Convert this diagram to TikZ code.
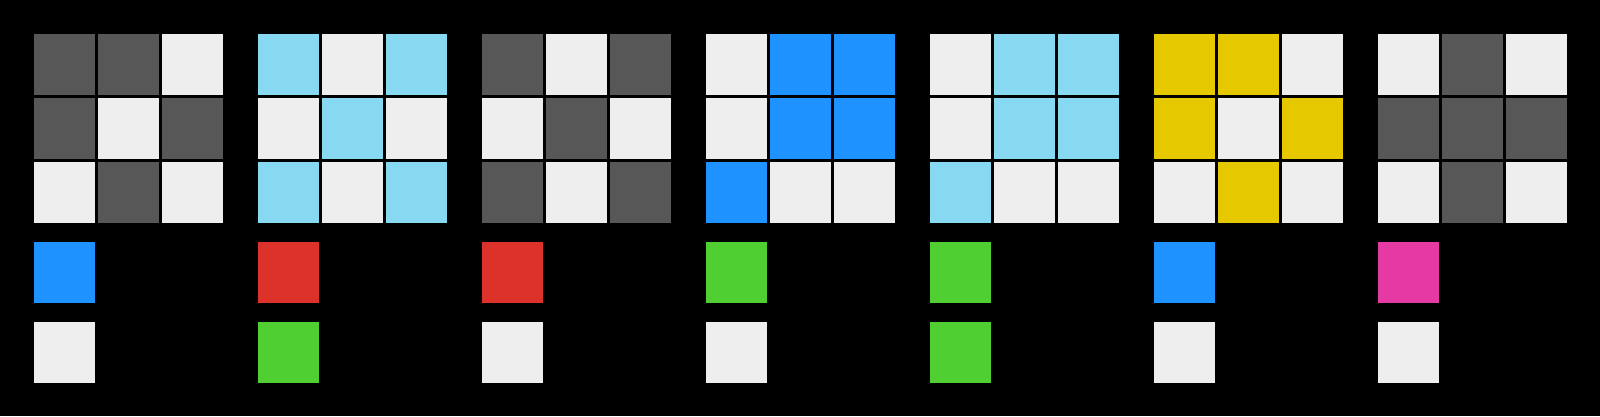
\documentclass[tikz,border=0pt]{standalone}
\definecolor{cD}{HTML}{575757}
\definecolor{cL}{HTML}{EEEEEE}
\definecolor{cB}{HTML}{1E93FF}
\definecolor{cC}{HTML}{87D9F2}
\definecolor{cR}{HTML}{DC3229}
\definecolor{cG}{HTML}{4FCF32}
\definecolor{cY}{HTML}{E5C800}
\definecolor{cM}{HTML}{E53AA3}
\tikzset{
  cell/.style={rectangle, minimum width=61pt, minimum height=61pt, inner sep=0pt, outer sep=0pt, draw=none, fill=#1}
}
\begin{document}
\begin{tikzpicture}[x=1pt,y=-1pt]
\fill[black] (0,0) rectangle (1600,416);
\useasboundingbox (0,0) rectangle (1600,416);
% panels: index / 9 cells / two swatches
\foreach \p/\cells/\sa/\sb in {
  0/{cD,cD,cL,cD,cL,cD,cL,cD,cL}/cB/cL,
  1/{cC,cL,cC,cL,cC,cL,cC,cL,cC}/cR/cG,
  2/{cD,cL,cD,cL,cD,cL,cD,cL,cD}/cR/cL,
  3/{cL,cB,cB,cL,cB,cB,cB,cL,cL}/cG/cL,
  4/{cL,cC,cC,cL,cC,cC,cC,cL,cL}/cG/cG,
  5/{cY,cY,cL,cY,cL,cY,cL,cY,cL}/cB/cL,
  6/{cL,cD,cL,cD,cD,cD,cL,cD,cL}/cM/cL}{
  \foreach \c [count=\i from 0] in \cells {
    \pgfmathtruncatemacro{\r}{int(\i/3)}
    \pgfmathtruncatemacro{\k}{mod(\i,3)}
    \node[cell=\c] (g\p-\r-\k) at ({34+224*\p+64*\k+30.5},{34+64*\r+30.5}) {};
  }
  \node[cell=\sa] (s\p-a) at ({34+224*\p+30.5},{242+30.5}) {};
  \node[cell=\sb] (s\p-b) at ({34+224*\p+30.5},{322+30.5}) {};
}
\end{tikzpicture}
\end{document}
